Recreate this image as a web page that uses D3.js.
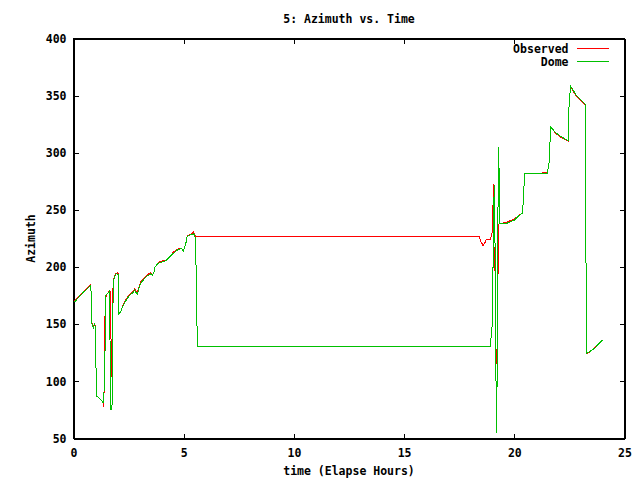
<!DOCTYPE html>
<html lang="en">
<head>
    <meta charset="UTF-8">
    <title>5: Azimuth vs. Time</title>
    <script src="https://d3js.org/d3.v7.min.js"></script>
    <style>
        body { margin: 0; background: #ffffff; }
        svg { display: block; }
        text {
            font-family: 'DejaVu Sans Mono', 'Liberation Mono', monospace;
            font-size: 11.5px;
            font-weight: bold;
            fill: #000000;
        }
        .axis path, .axis line { stroke: #000000; shape-rendering: crispEdges; }
        .series { fill: none; stroke-width: 1; shape-rendering: crispEdges; }
    </style>
</head>
<body>
    <svg width="640" height="480"></svg>
    <script>
        // Data (time in elapsed hours, azimuth in degrees)
        const hours = [
            0.00, 0.09, 0.18, 0.27, 0.36, 0.45, 0.55, 0.64, 0.73, 0.79,
            0.82, 0.86, 0.91, 0.95, 0.99, 1.00, 1.03, 1.06, 1.14, 1.23,
            1.32, 1.38, 1.39, 1.42, 1.45, 1.51, 1.59, 1.64, 1.66, 1.70,
            1.73, 1.76, 1.80, 1.86, 1.93, 1.98, 2.05, 2.06, 2.14, 2.27,
            2.42, 2.58, 2.73, 2.77, 2.89, 2.95, 3.05, 3.18, 3.32, 3.50,
            3.59, 3.66, 3.70, 3.82, 3.92, 4.20, 4.30, 4.53, 4.76, 4.91,
            4.99, 5.09, 5.16, 5.36, 5.44, 5.51, 5.56, 5.59, 5.64,
            18.40, 18.48, 18.58, 18.66, 18.73, 18.91, 18.99, 19.02, 19.05, 19.07,
            19.09, 19.14, 19.15, 19.17, 19.20, 19.23, 19.26, 19.29, 19.32, 19.33,
            19.35, 19.68, 20.00, 20.27, 20.36, 20.40, 20.47, 21.50, 21.58, 21.65,
            21.73, 21.88, 22.10, 22.27, 22.44, 22.49, 22.56, 22.64, 22.79, 23.01,
            23.23, 23.24, 23.29, 23.45, 23.64, 23.82, 24.00
        ];
        const observed = [
            170, 171, 173.5, 175, 177, 178.5, 180.5, 182, 183.5, 185,
            152, 150, 148, 150, 149, 135, 103, 87, 86, 84,
            82, 78, 102, 150, 172, 176, 178, 179.5, 179, 140,
            104, 150, 188, 192, 194.5, 195, 194, 159, 161, 168,
            173, 177, 179, 181, 177, 181, 187, 190, 193, 195,
            193, 196, 200, 203, 205, 206, 208, 213, 216, 216.5,
            214, 220, 227.6, 229, 230.5, 227.6, 226.8, 226.8, 226.8,
            226.8, 222.5, 219, 221, 224, 224, 230, 238, 273, 235,
            197, 215, 160, 116, 116, 140, 192, 237, 238, 238,
            238, 239.5, 242, 246, 247, 255, 281.6, 282.5, 292, 322,
            320.5, 317, 313.5, 312, 310.5, 345.7, 358, 355, 350, 346,
            342, 233, 124.5, 126, 129.5, 133, 136.4
        ];
        const dome = [
            170, 170, 172.5, 174.5, 176, 178, 179.5, 181.5, 183, 184,
            152, 149, 147, 150, 148, 135, 103, 87, 86, 84,
            82, 81, 102, 102, 175, 176, 177.8, 179, 127, 75,
            78, 80, 188, 191, 194, 194, 193, 159, 161, 167,
            172, 176, 178, 180, 176, 180, 186, 189, 192, 194,
            193, 196, 200, 203, 204, 205.5, 207.8, 212, 215.5, 216,
            214, 220, 227, 228.5, 229, 228, 201, 155, 130.5,
            130.5, 130.5, 130.5, 130.5, 130.5, 130.5, 148, 183, 218, 252,
            272, 200, 150, 100, 55, 130, 250, 305, 250, 287,
            238, 238.5, 241, 246, 247, 255, 281.6, 281.6, 292, 322.4,
            321, 317.5, 314.5, 312.5, 310.75, 345.7, 358, 356, 351, 346.5,
            342.5, 233, 124.5, 126.5, 129, 132.5, 136
        ];
        const xTicks = [0, 5, 10, 15, 20, 25];
        const yTicks = [50, 100, 150, 200, 250, 300, 350, 400];
        const seriesNames = ["Observed", "Dome"];
        const seriesColors = ["#ff0000", "#00c000"];

        const margin = { top: 38, right: 16, bottom: 42, left: 73 };
        const width = 640 - margin.left - margin.right;
        const height = 480 - margin.top - margin.bottom;

        const svg = d3.select("svg")
            .append("g")
            .attr("transform", `translate(${margin.left + 0.5},${margin.top + 0.5})`);

        const x = d3.scaleLinear().domain([0, 25]).range([0, width]);
        const y = d3.scaleLinear().domain([50, 400]).range([height, 0]);

        // Axes with inward ticks, mirrored on top and right (gnuplot style)
        svg.append("g")
            .attr("class", "axis")
            .attr("transform", `translate(0,${height})`)
            .call(d3.axisBottom(x).tickValues(xTicks).tickSize(-5).tickPadding(10).tickSizeOuter(0));
        svg.append("g")
            .attr("class", "axis")
            .call(d3.axisTop(x).tickValues(xTicks).tickSize(-5).tickFormat("").tickSizeOuter(0));
        svg.append("g")
            .attr("class", "axis")
            .call(d3.axisLeft(y).tickValues(yTicks).tickSize(-5).tickPadding(7).tickSizeOuter(0));
        svg.append("g")
            .attr("class", "axis")
            .attr("transform", `translate(${width},0)`)
            .call(d3.axisRight(y).tickValues(yTicks).tickSize(-5).tickFormat("").tickSizeOuter(0));

        svg.selectAll(".axis text")
            .attr("font-family", null)
            .attr("font-size", null);

        // Border
        svg.append("rect")
            .attr("width", width)
            .attr("height", height)
            .attr("fill", "none")
            .attr("stroke", "#000")
            .attr("shape-rendering", "crispEdges");

        // Series
        const line = d3.line()
            .x(d => x(d[0]))
            .y(d => y(d[1]));

        [observed, dome].forEach((vals, i) => {
            svg.append("path")
                .attr("class", "series")
                .attr("stroke", seriesColors[i])
                .attr("d", line(hours.map((h, j) => [h, vals[j]])));
        });

        // Legend
        seriesNames.forEach((name, i) => {
            const ly = 10 + i * 13;
            svg.append("text")
                .attr("x", 495)
                .attr("y", ly)
                .attr("dy", "0.35em")
                .attr("text-anchor", "end")
                .text(name);
            svg.append("line")
                .attr("x1", 503).attr("x2", 535)
                .attr("y1", ly).attr("y2", ly)
                .attr("stroke", seriesColors[i])
                .attr("shape-rendering", "crispEdges");
        });

        // Titles
        svg.append("text")
            .attr("x", width / 2)
            .attr("y", -20)
            .attr("text-anchor", "middle")
            .attr("dy", "0.35em")
            .text("5: Azimuth vs. Time");

        svg.append("text")
            .attr("x", width / 2)
            .attr("y", height + 32)
            .attr("text-anchor", "middle")
            .attr("dy", "0.35em")
            .text("time (Elapse Hours)");

        svg.append("text")
            .attr("transform", `translate(-43,${height / 2}) rotate(-90)`)
            .attr("text-anchor", "middle")
            .attr("dy", "0.35em")
            .text("Azimuth");
    </script>
</body>
</html>
